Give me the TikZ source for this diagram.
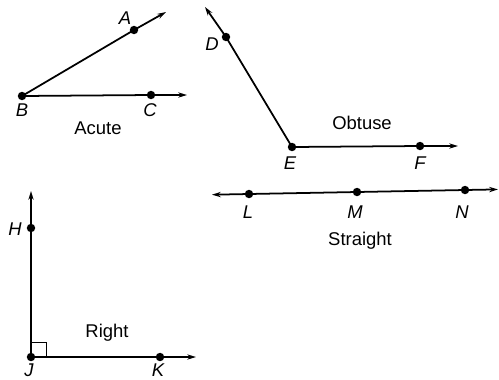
\documentclass[tikz,border=0pt]{standalone}
\usepackage{fontspec}
\setmainfont{Liberation Sans}
\usetikzlibrary{arrows.meta}
\tikzset{
  ray/.style={line width=1pt,-{Stealth[length=5pt,width=3pt]}},
  bothray/.style={line width=1pt,{Stealth[length=5pt,width=3pt]}-{Stealth[length=5pt,width=3pt]}},
  pt/.style={circle,fill=black,inner sep=0pt,minimum size=4.8pt},
  ptlabel/.style={font=\fontsize{10.5}{12}\selectfont\itshape,inner sep=0pt},
  title/.style={font=\fontsize{10.5}{12}\selectfont,inner sep=0pt}
}
\begin{document}
\begin{tikzpicture}[x=0.02cm,y=-0.02cm]
\useasboundingbox (0,0) rectangle (499,379);
% Acute
\node[pt] (B) at (22,96) {};
\node[pt] (A) at (134,30) {};
\node[pt] (C) at (151,95) {};
\coordinate (Aend) at (166,12);
\coordinate (Cend) at (187,95);
\draw[ray] (B.center) -- (A.center) -- (Aend);
\draw[ray] (B.center) -- (C.center) -- (Cend);
\node[ptlabel] (lA) at (125,18) {A};
\node[ptlabel] (lB) at (22,110) {B};
\node[ptlabel] (lC) at (150,110) {C};
\node[title] (tAcute) at (98,128) {Acute};
% Obtuse
\node[pt] (E) at (292,147) {};
\node[pt] (D) at (226,37) {};
\node[pt] (F) at (420,146) {};
\coordinate (Dend) at (205,7);
\coordinate (Fend) at (458,146);
\draw[ray] (E.center) -- (D.center) -- (Dend);
\draw[ray] (E.center) -- (F.center) -- (Fend);
\node[ptlabel] (lD) at (212,44) {D};
\node[ptlabel] (lE) at (290,163) {E};
\node[ptlabel] (lF) at (420,163) {F};
\node[title] (tObtuse) at (362,123) {Obtuse};
% Straight
\node[pt] (L) at (249,194) {};
\node[pt] (M) at (357,192) {};
\node[pt] (N) at (465,190) {};
\coordinate (Lend) at (212,194.7);
\coordinate (Nend) at (498,189.4);
\draw[bothray] (Lend) -- (L.center) -- (M.center) -- (N.center) -- (Nend);
\node[ptlabel] (lL) at (248,212) {L};
\node[ptlabel] (lM) at (355,212) {M};
\node[ptlabel] (lN) at (462,212) {N};
\node[title] (tStraight) at (360,241) {Straight};
% Right
\node[pt] (J) at (31,357) {};
\node[pt] (H) at (31,228) {};
\node[pt] (K) at (160,357) {};
\coordinate (Hend) at (31,191);
\coordinate (Kend) at (196,357);
\draw[ray] (J.center) -- (H.center) -- (Hend);
\draw[ray] (J.center) -- (K.center) -- (Kend);
\draw[line width=0.5pt] ([yshift=0.3cm]J.center) -| ([xshift=0.3cm]J.center);
\node[ptlabel] (lH) at (15,229) {H};
\node[ptlabel] (lJ) at (29,370) {J};
\node[ptlabel] (lK) at (158,370) {K};
\node[title] (tRight) at (107,333) {Right};
\end{tikzpicture}
\end{document}
